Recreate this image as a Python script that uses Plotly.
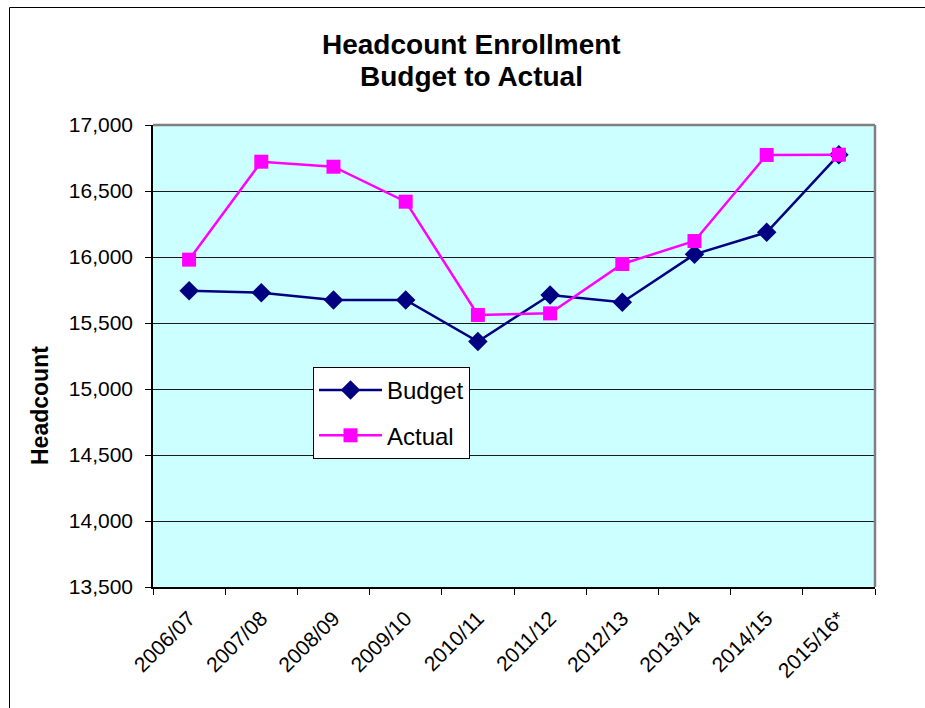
import plotly.graph_objects as go

# Enrollment headcount by fiscal year
years = ["2006/07", "2007/08", "2008/09", "2009/10", "2010/11",
         "2011/12", "2012/13", "2013/14", "2014/15", "2015/16*"]
budget = [15745, 15730, 15675, 15675, 15360, 15712, 15657, 16020, 16187, 16775]
actual = [15980, 16722, 16684, 16419, 15561, 15573, 15947, 16121, 16773, 16775]

y_ticks = [13500, 14000, 14500, 15000, 15500, 16000, 16500, 17000]

FONT = "Liberation Sans, Arial, sans-serif"
NAVY = "#000080"
MAGENTA = "#FF00FF"

fig = go.Figure()
fig.add_trace(go.Scatter(
    x=years, y=budget, name="Budget", mode="lines+markers",
    line=dict(color=NAVY, width=2.5),
    marker=dict(symbol="diamond", size=15, color=NAVY),
    legendgroup="b",
))
fig.add_trace(go.Scatter(
    x=years, y=actual, name="Actual", mode="lines+markers",
    line=dict(color=MAGENTA, width=2.5),
    marker=dict(symbol="square", size=14, color=MAGENTA),
    legendgroup="a",
))

W, H = 925, 708
L, R, T, B = 153, 50, 125, 121
pw, ph = W - L - R, H - T - B


def px_x(p):
    return (p - L) / pw


def px_y(p):
    return (H - B - p) / ph


fig.update_layout(
    width=W, height=H,
    margin=dict(l=L, r=R, t=T, b=B),
    paper_bgcolor="white",
    plot_bgcolor="#CCFFFF",
    font=dict(family=FONT, color="black"),
    showlegend=True,
    legend=dict(
        x=px_x(313), y=px_y(367), xanchor="left", yanchor="top",
        bgcolor="white", bordercolor="black", borderwidth=1,
        font=dict(size=24, family=FONT, color="black"),
        tracegroupgap=11,
        itemwidth=63,
    ),
    xaxis=dict(
        type="category",
        tickson="boundaries",
        ticks="outside", ticklen=6, tickcolor="black",
        tickangle=-45,
        tickfont=dict(size=21, family=FONT, color="black"),
        ticklabelstandoff=9,
        showline=True, linecolor="black", linewidth=1.5,
        showgrid=False,
        range=[-0.5, len(years) - 0.5],
        fixedrange=True,
    ),
    yaxis=dict(
        range=[13500, 17000],
        tickvals=y_ticks,
        tickformat=",",
        ticks="outside", ticklen=6, tickcolor="black",
        tickfont=dict(size=21, family=FONT, color="black"),
        ticklabelstandoff=8,
        showline=True, linecolor="black", linewidth=1.5,
        showgrid=True, gridcolor="#1a1a1a", gridwidth=1,
        zeroline=False,
    ),
    annotations=[
        dict(text="<b>Headcount Enrollment</b>", xref="paper", yref="paper",
             x=px_x(471), y=px_y(44), xanchor="center", yanchor="middle",
             showarrow=False, font=dict(size=28, family=FONT, color="black")),
        dict(text="<b>Budget to Actual</b>", xref="paper", yref="paper",
             x=px_x(471), y=px_y(76), xanchor="center", yanchor="middle",
             showarrow=False, font=dict(size=28, family=FONT, color="black")),
        dict(text="<b>Headcount</b>", xref="paper", yref="paper",
             x=px_x(40), y=px_y(406), xanchor="center", yanchor="middle",
             textangle=-90, showarrow=False,
             font=dict(size=23, family=FONT, color="black")),
    ],
    shapes=[
        # gray frame on top and right of the plotting area
        dict(type="line", xref="paper", yref="paper", x0=0, x1=1, y0=1, y1=1,
             line=dict(color="#808080", width=2.5)),
        dict(type="line", xref="paper", yref="paper", x0=1, x1=1, y0=0, y1=1,
             line=dict(color="#808080", width=2.5)),
        # outer chart border
        dict(type="rect", xref="paper", yref="paper",
             x0=px_x(9.5), x1=px_x(940), y0=px_y(7.5), y1=px_y(730),
             line=dict(color="black", width=1)),
    ],
)

fig.write_html("out.html")
